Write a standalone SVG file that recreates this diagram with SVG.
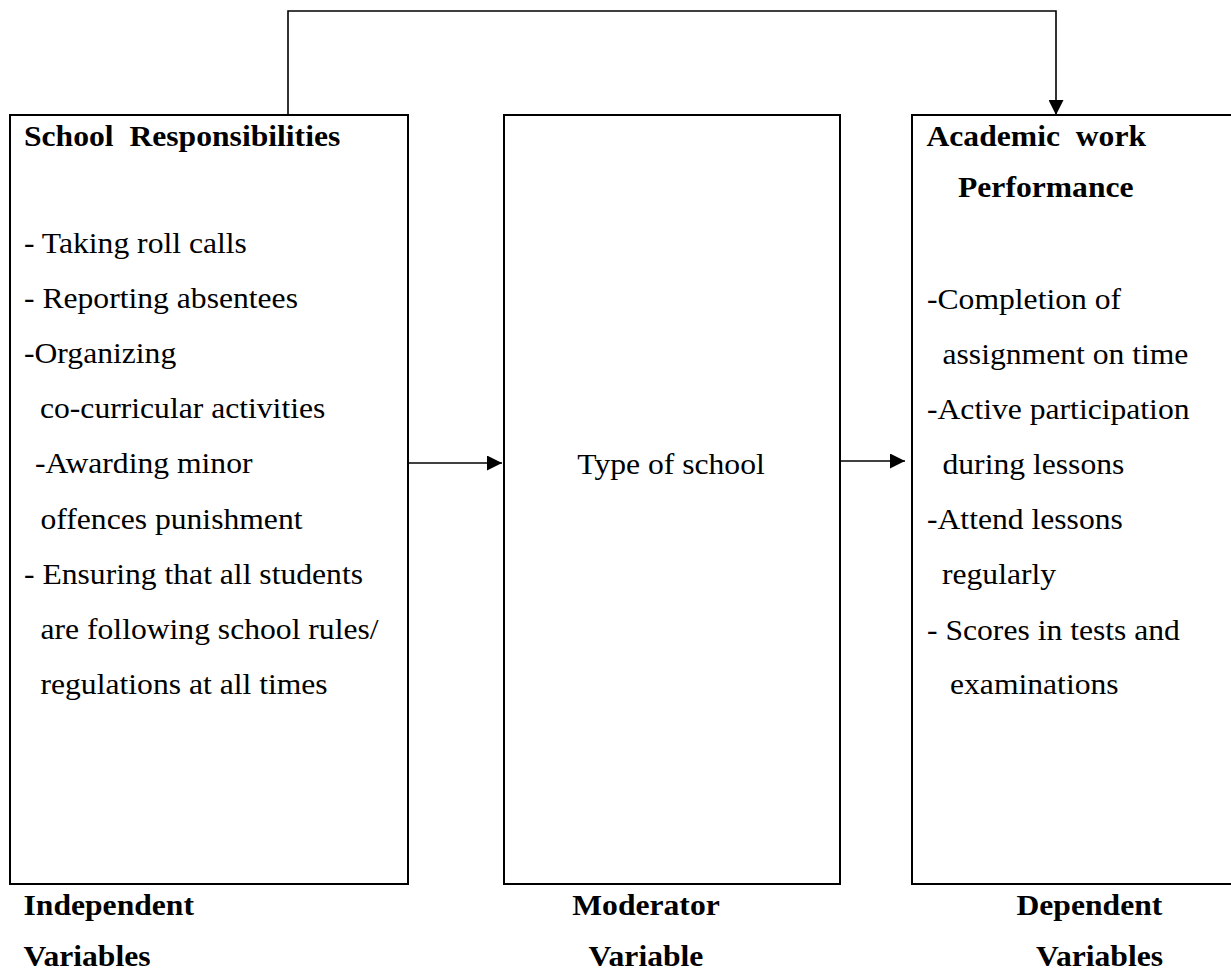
<svg xmlns="http://www.w3.org/2000/svg" width="1231" height="973" viewBox="0 0 1231 973">
<style>
.box{fill:#fff;stroke:#000;stroke-width:2}
.t{font-family:"Liberation Serif","Times New Roman",serif;font-size:28.5px;fill:#000}
.b{font-weight:bold}
.c{fill:none;stroke:#000;stroke-width:1.6}
</style>
<defs>
<marker id="ah" viewBox="0 0 15 15" refX="15" refY="7.5" markerWidth="15" markerHeight="15" markerUnits="userSpaceOnUse" orient="auto">
<path d="M0,0 L15,7.5 L0,15 Z" fill="#000"/>
</marker>
</defs>
<rect width="1231" height="973" fill="#fff"/>
<g id="independent">
<rect class="box" x="10" y="115" width="398" height="769"/>
<text class="t b" transform="translate(24 146) scale(1.11 1)" xml:space="preserve">School  Responsibilities</text>
<text class="t" transform="translate(24 253) scale(1.11 1)">- Taking roll calls</text>
<text class="t" transform="translate(24 308) scale(1.11 1)">- Reporting absentees</text>
<text class="t" transform="translate(24 363) scale(1.11 1)">-Organizing</text>
<text class="t" transform="translate(40 418) scale(1.11 1)">co-curricular activities</text>
<text class="t" transform="translate(35 473) scale(1.11 1)">-Awarding minor</text>
<text class="t" transform="translate(40.5 529) scale(1.11 1)">offences punishment</text>
<text class="t" transform="translate(24 584) scale(1.11 1)">- Ensuring that all students</text>
<text class="t" transform="translate(40.5 639) scale(1.11 1)">are following school rules/</text>
<text class="t" transform="translate(40.5 694) scale(1.11 1)">regulations at all times</text>
</g>
<g id="moderator">
<rect class="box" x="504" y="115" width="336" height="769"/>
<text class="t" text-anchor="middle" transform="translate(671 474) scale(1.11 1)">Type of school</text>
</g>
<g id="dependent">
<rect class="box" x="912" y="115" width="330" height="769"/>
<text class="t b" transform="translate(926.5 146) scale(1.11 1)" xml:space="preserve">Academic  work</text>
<text class="t b" transform="translate(958 197) scale(1.11 1)">Performance</text>
<text class="t" transform="translate(927 309) scale(1.11 1)">-Completion of</text>
<text class="t" transform="translate(942.5 364) scale(1.11 1)">assignment on time</text>
<text class="t" transform="translate(927 419) scale(1.11 1)">-Active participation</text>
<text class="t" transform="translate(942.5 474) scale(1.11 1)">during lessons</text>
<text class="t" transform="translate(927 529) scale(1.11 1)">-Attend lessons</text>
<text class="t" transform="translate(942 584) scale(1.11 1)">regularly</text>
<text class="t" transform="translate(927 640) scale(1.11 1)">- Scores in tests and</text>
<text class="t" transform="translate(950 694) scale(1.11 1)">examinations</text>
</g>
<g id="labels">
<text class="t b" transform="translate(23.5 915) scale(1.11 1)">Independent</text>
<text class="t b" transform="translate(23.5 966) scale(1.11 1)">Variables</text>
<text class="t b" text-anchor="middle" transform="translate(646 915) scale(1.11 1)">Moderator</text>
<text class="t b" text-anchor="middle" transform="translate(646 966) scale(1.11 1)">Variable</text>
<text class="t b" transform="translate(1016.5 915) scale(1.11 1)">Dependent</text>
<text class="t b" transform="translate(1036 966) scale(1.11 1)">Variables</text>
</g>
<g id="connectors">
<path class="c" d="M408,463 L502,463" marker-end="url(#ah)"/>
<path class="c" d="M840,461 L905,461" marker-end="url(#ah)"/>
<path class="c" d="M288,114 L288,11 L1056,11 L1056,115" marker-end="url(#ah)"/>
</g>
</svg>
